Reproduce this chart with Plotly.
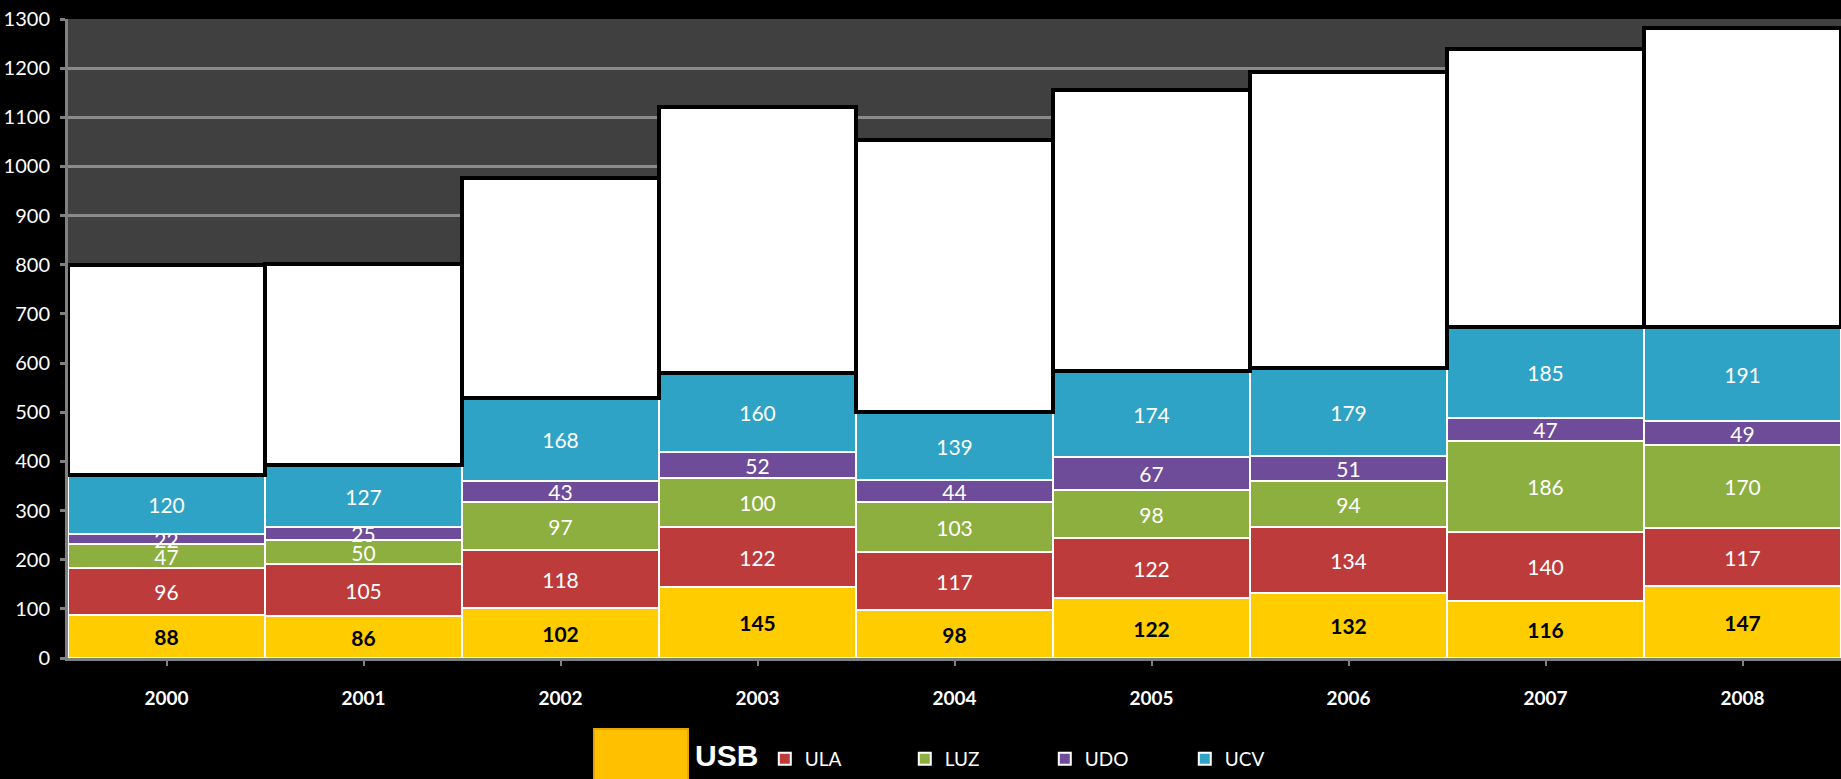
import plotly.graph_objects as go

years = ["2000", "2001", "2002", "2003", "2004", "2005", "2006", "2007", "2008"]
usb = [88, 86, 102, 145, 98, 122, 132, 116, 147]
ula = [96, 105, 118, 122, 117, 122, 134, 140, 117]
luz = [47, 50, 97, 100, 103, 98, 94, 186, 170]
udo = [22, 25, 43, 52, 44, 67, 51, 47, 49]
ucv = [120, 127, 168, 160, 139, 174, 179, 185, 191]
# unlabeled white block on top of each column (estimated)
otras = [427, 408, 448, 542, 553, 572, 603, 564, 608]
yticks = list(range(0, 1301, 100))

FONT = "Lato"
fig = go.Figure()

series = [
    ("USB", usb, "#FFCC00", "black", True, False),
    ("ULA", ula, "#BE3B3B", "white", False, True),
    ("LUZ", luz, "#8CAF3F", "white", False, True),
    ("UDO", udo, "#6E4C99", "white", False, True),
    ("UCV", ucv, "#2FA3C5", "white", False, True),
]
for name, vals, col, tcol, bold, show in series:
    fig.add_trace(go.Bar(
        name=name, x=years, y=vals,
        marker=dict(color=col, line=dict(color="white", width=2)),
        text=vals,
        texttemplate="<b>%{text}</b>" if bold else "%{text}",
        textposition="inside", insidetextanchor="middle", textangle=0,
        textfont=dict(color=tcol, size=21, family=FONT),
        showlegend=show,
    ))

fig.add_trace(go.Bar(
    name="Otras", x=years, y=otras,
    marker=dict(color="white", line=dict(color="black", width=4)),
    showlegend=False, hoverinfo="skip",
))

fig.update_layout(
    barmode="stack", bargap=0,
    width=1841, height=779,
    paper_bgcolor="black", plot_bgcolor="#404040",
    margin=dict(l=68, r=0, t=19, b=121),
    font=dict(family=FONT, color="white", size=21),
    uniformtext=dict(minsize=21, mode="show"),
    xaxis=dict(
        tickfont=dict(family=FONT, size=19, color="white"),
        tickprefix="<b>", ticksuffix="</b>",
        showline=True, linecolor="#808080", linewidth=3,
        ticks="outside", tickcolor="#808080", ticklen=5, tickwidth=2,
        ticklabelstandoff=16,
    ),
    yaxis=dict(
        range=[0, 1300], tickvals=yticks,
        tickfont=dict(family=FONT, size=20, color="white"),
        showgrid=True, gridcolor="#8a8a8a", gridwidth=3,
        showline=True, linecolor="#808080", linewidth=3,
        ticks="outside", tickcolor="#808080", ticklen=5, tickwidth=3,
        zeroline=False, ticklabelstandoff=6,
    ),
    legend=dict(
        orientation="h", x=0.393, xanchor="left", y=-0.158, yanchor="middle",
        font=dict(family=FONT, size=19, color="white"),
        bgcolor="rgba(0,0,0,0)", itemwidth=30, tracegroupgap=0,
        traceorder="normal", borderwidth=0,
        entrywidth=95, entrywidthmode="pixels",
    ),
    shapes=[dict(
        type="rect", xref="paper", yref="paper",
        x0=0.2967, x1=0.3497, y0=-0.20, y1=-0.111,
        fillcolor="#FFC000", line=dict(color="#E6A800", width=2),
    )],
    annotations=[dict(
        text="<b>USB</b>", xref="paper", yref="paper",
        x=0.3525, y=-0.153, xanchor="left", yanchor="middle",
        showarrow=False,
        font=dict(family="Liberation Sans", size=30, color="white"),
    )],
)

fig.write_html(
    "out.html",
    config={"displayModeBar": False},
    post_script="document.body.style.margin='0';document.body.style.background='black';",
)
